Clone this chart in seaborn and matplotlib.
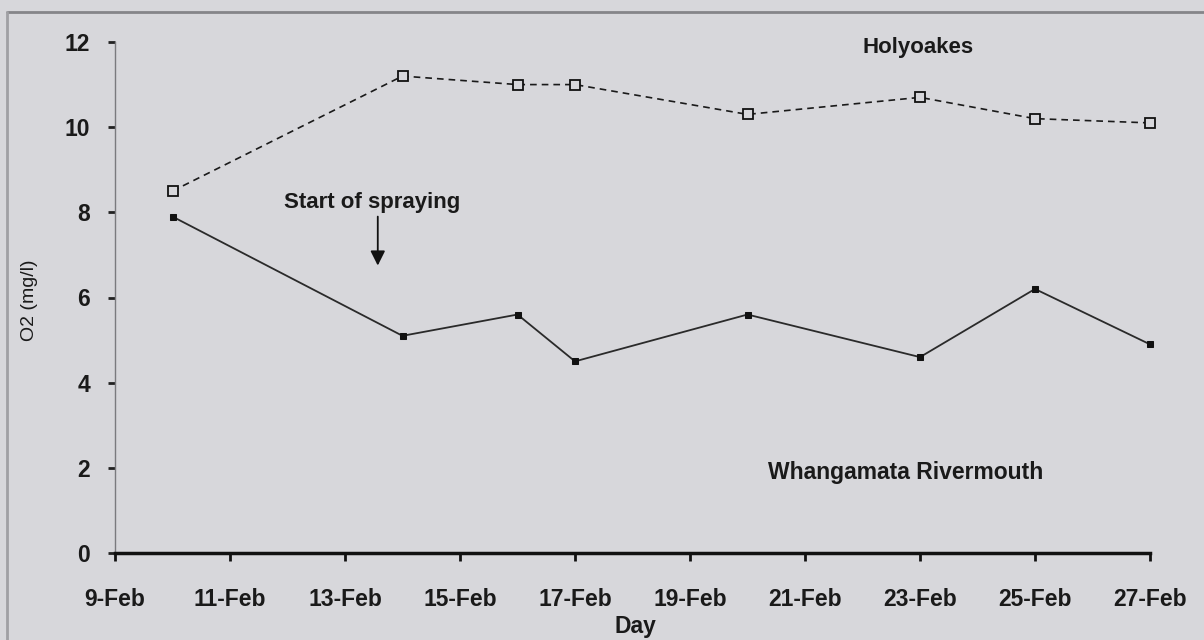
import matplotlib
matplotlib.use("Agg")
import matplotlib.pyplot as plt
from matplotlib.lines import Line2D
import seaborn as sns

# Dissolved oxygen, February, two sites

days = [10, 14, 16, 17, 20, 23, 25, 27]
holyoakes = [8.5, 11.2, 11.0, 11.0, 10.3, 10.7, 10.2, 10.1]
whangamata = [7.9, 5.1, 5.6, 4.5, 5.6, 4.6, 6.2, 4.9]

tick_days = [9, 11, 13, 15, 17, 19, 21, 23, 25, 27]
tick_labels = [f"{d}-Feb" for d in tick_days]
y_ticks = [0, 2, 4, 6, 8, 10, 12]

bg = "#d7d7db"

sns.set_style("white")
plt.rcParams["font.family"] = ["Liberation Sans", "DejaVu Sans"]

fig = plt.figure(figsize=(12.04, 6.4), dpi=100, facecolor=bg)
ax = fig.add_axes([115 / 1204, 1 - 553 / 640, 1035 / 1204, 511 / 640])
ax.set_facecolor(bg)

sns.lineplot(x=days, y=holyoakes, ax=ax, color="#1a1a1a", lw=1.2,
             linestyle=(0, (4, 3)), marker="s", markersize=6.5,
             markerfacecolor=bg, markeredgecolor="#111", markeredgewidth=1.3,
             clip_on=False)
sns.lineplot(x=days, y=whangamata, ax=ax, color="#2a2a2a", lw=1.3,
             marker="s", markersize=3.8, markerfacecolor="#111",
             markeredgecolor="#111", clip_on=False)

ax.set_xlim(9, 27)
ax.set_ylim(0, 12)
ax.set_xticks(tick_days)
ax.set_xticklabels(tick_labels)
ax.set_yticks(y_ticks)

for s in ["top", "right"]:
    ax.spines[s].set_visible(False)
ax.spines["left"].set_color("#7a7a7e")
ax.spines["left"].set_linewidth(1.0)
ax.spines["bottom"].set_color("#111")
ax.spines["bottom"].set_linewidth(2.5)
ax.spines["bottom"].set_zorder(3)

ax.tick_params(axis="x", bottom=True, direction="out", length=6, width=2,
               color="#111", pad=19, labelsize=16.5)
ax.tick_params(axis="y", left=True, direction="out", length=5, width=2,
               color="#222", pad=13, labelsize=16.5)
for lab in ax.get_xticklabels() + ax.get_yticklabels():
    lab.set_fontweight("bold")
    lab.set_color("#1a1a1a")

ax.set_xlabel("Day", fontsize=16.5, fontweight="bold", color="#1a1a1a")
ax.xaxis.set_label_coords(0.503, -0.122)
ax.set_ylabel("")
fig.text(30 / 1204, 1 - 300 / 640, "O2 (mg/l)", rotation=90, ha="center",
         va="center", fontsize=14, color="#1a1a1a")

ax.text(22.0, 11.87, "Holyoakes", ha="left", va="center", fontsize=16,
        fontweight="bold", color="#1a1a1a")
ax.text(20.36, 1.88, "Whangamata Rivermouth", ha="left", va="center",
        fontsize=16.5, fontweight="bold", color="#1a1a1a")

ax.text(13.47, 8.24, "Start of spraying", ha="center", va="center",
        fontsize=16, fontweight="bold", color="#1a1a1a")
ax.annotate("", xy=(13.57, 6.75), xytext=(13.57, 7.9),
            arrowprops=dict(arrowstyle="-|>", color="#111", lw=1.3,
                            mutation_scale=22, shrinkA=0, shrinkB=0))

# scanned page frame
fig.add_artist(Line2D([7 / 1204, 1], [1 - 12 / 640, 1 - 12 / 640],
                      transform=fig.transFigure, color="#858589", lw=2))
fig.add_artist(Line2D([7 / 1204, 7 / 1204], [0, 1 - 12 / 640],
                      transform=fig.transFigure, color="#a0a0a4", lw=2))

fig.savefig("out.png", dpi=100, facecolor=bg)
